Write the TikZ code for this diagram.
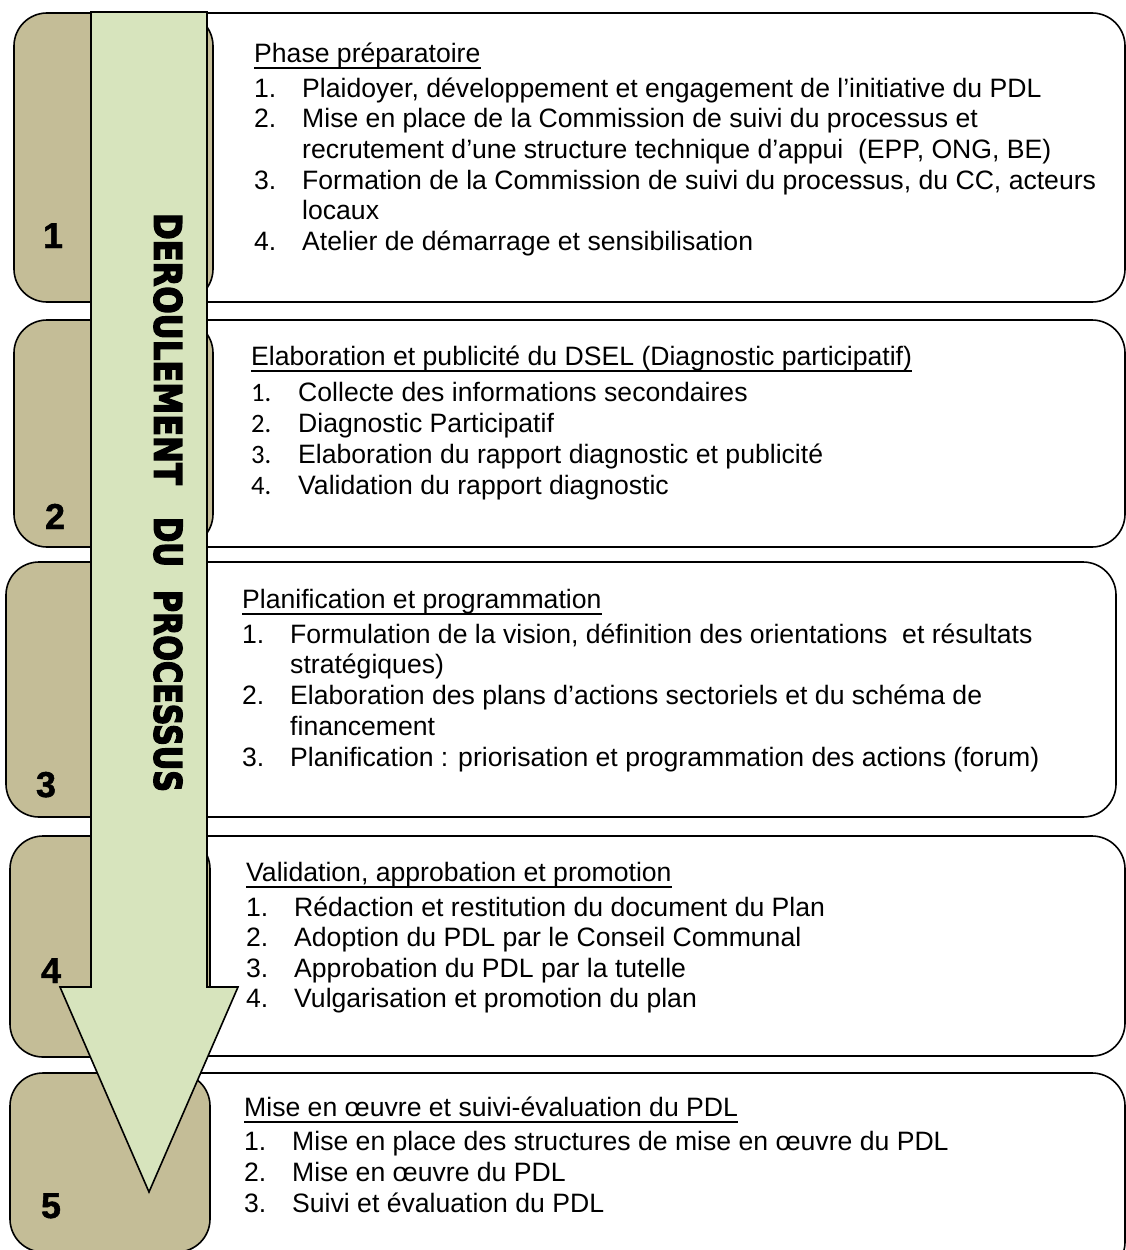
\documentclass[tikz,border=0pt]{standalone}
\usepackage{fontspec}
\usepackage{graphicx}
\setmainfont{Liberation Sans}
\newfontfamily\calib{Carlito}
\newfontfamily\heavy[BoldFeatures={FakeBold=4}]{DejaVu Sans}
\newfontfamily\numfont[BoldFeatures={FakeBold=1.2}]{Liberation Sans}
\definecolor{tanfill}{HTML}{C4BD97}
\definecolor{lgreen}{HTML}{D7E4BD}
\begin{document}
\begin{tikzpicture}[x=1pt,y=-1pt,
  wbox/.style={draw=black, line width=1.6pt, fill=white, rounded corners=33pt},
  tbox/.style={draw=black, line width=1.6pt, fill=tanfill, rounded corners=33pt},
  txt/.style={anchor=base west, inner sep=0pt, font=\fontsize{26.6}{30}\selectfont},
  ctxt/.style={anchor=base west, inner sep=0pt, font=\fontsize{26.6}{30}\selectfont\calib},
  num/.style={anchor=base, inner sep=0pt, font=\fontsize{36}{40}\selectfont\numfont\bfseries},
  vtxt/.style={rotate=-90, inner sep=0pt},
  uline/.style={line width=1.6pt}
]
\useasboundingbox (0,0) rectangle (1126,1250);
% white boxes
\draw[wbox] (150,13) rectangle (1125,302);
\draw[wbox] (150,320) rectangle (1125,547);
\draw[wbox] (150,562) rectangle (1116,817);
\draw[wbox] (150,836) rectangle (1125,1056);
\draw[wbox] (150,1073) rectangle (1125,1275);
% tan boxes
\draw[tbox] (14,13) rectangle (213,302);
\draw[tbox] (14,320) rectangle (213,547);
\draw[tbox] (6,562) rectangle (205,817);
\draw[tbox] (10,836) rectangle (210,1057);
\draw[tbox] (10,1073) rectangle (210,1252);
% arrow
\draw[line width=1.6pt, line join=miter, fill=lgreen]
  (91,12) -- (207,12) -- (207,987) -- (238,987) -- (149,1192) -- (60,987) -- (91,987) -- cycle;
\node[vtxt] (vt1) at (168,349) {\resizebox{272pt}{28pt}{\heavy\bfseries DEROULEMENT}};
\node[vtxt] (vt2) at (168,542) {\resizebox{50pt}{28pt}{\heavy\bfseries DU}};
\node[vtxt] (vt3) at (168,691) {\resizebox{202pt}{28pt}{\heavy\bfseries PROCESSUS}};
% numbers
\node[num] (n1) at (53,248) {1};
\node[num] (n2) at (55,529) {2};
\node[num] (n3) at (46,797) {3};
\node[num] (n4) at (51,983) {4};
\node[num] (n5) at (51,1218) {5};
% row 1
\node[txt] (h1) at (254,62) {Phase préparatoire};
\node[txt] (a1n) at (254,97) {1.};
\node[txt] (a1t) at (302,97) {Plaidoyer, développement et engagement de l’initiative du PDL};
\node[txt] (a2n) at (254,127) {2.};
\node[txt] (a2t) at (302,127) {Mise en place de la Commission de suivi du processus et};
\node[txt] (a2u) at (302,158) {recrutement d’une structure technique d’appui \ (EPP, ONG, BE)};
\node[txt] (a3n) at (254,189) {3.};
\node[txt] (a3t) at (302,189) {Formation de la Commission de suivi du processus, du CC, acteurs};
\node[txt] (a3u) at (302,219) {locaux};
\node[txt] (a4n) at (254,250) {4.};
\node[txt] (a4t) at (302,250) {Atelier de démarrage et sensibilisation};
% row 2
\node[txt] (h2) at (251,365) {Elaboration et publicité du DSEL (Diagnostic participatif)};
\node[ctxt] (b1n) at (251,401) {1.};
\node[txt] (b1t) at (298,401) {Collecte des informations secondaires};
\node[ctxt] (b2n) at (251,432) {2.};
\node[txt] (b2t) at (298,432) {Diagnostic Participatif};
\node[ctxt] (b3n) at (251,463) {3.};
\node[txt] (b3t) at (298,463) {Elaboration du rapport diagnostic et publicité};
\node[ctxt] (b4n) at (251,494) {4.};
\node[txt] (b4t) at (298,494) {Validation du rapport diagnostic};
% row 3
\node[txt] (h3) at (242,608) {Planification et programmation};
\node[txt] (c1n) at (242,643) {1.};
\node[txt] (c1t) at (290,643) {Formulation de la vision, définition des orientations \ et résultats};
\node[txt] (c1u) at (290,673) {stratégiques)};
\node[txt] (c2n) at (242,704) {2.};
\node[txt] (c2t) at (290,704) {Elaboration des plans d’actions sectoriels et du schéma de};
\node[txt] (c2u) at (290,735) {financement};
\node[txt] (c3n) at (242,766) {3.};
\node[txt] (c3t) at (290,766) {Planification : priorisation et programmation des actions (forum)};
% row 4
\node[txt] (h4) at (246,881) {Validation, approbation et promotion};
\node[txt] (d1n) at (246,916) {1.};
\node[txt] (d1t) at (294,916) {Rédaction et restitution du document du Plan};
\node[txt] (d2n) at (246,946) {2.};
\node[txt] (d2t) at (294,946) {Adoption du PDL par le Conseil Communal};
\node[txt] (d3n) at (246,977) {3.};
\node[txt] (d3t) at (294,977) {Approbation du PDL par la tutelle};
\node[txt] (d4n) at (246,1007) {4.};
\node[txt] (d4t) at (294,1007) {Vulgarisation et promotion du plan};
% row 5
\node[txt] (h5) at (244,1116) {Mise en œuvre et suivi-évaluation du PDL};
\node[txt] (e1n) at (244,1150) {1.};
\node[txt] (e1t) at (292,1150) {Mise en place des structures de mise en œuvre du PDL};
\node[txt] (e2n) at (244,1181) {2.};
\node[txt] (e2t) at (292,1181) {Mise en œuvre du PDL};
\node[txt] (e3n) at (244,1212) {3.};
\node[txt] (e3t) at (292,1212) {Suivi et évaluation du PDL};
% underlines
\foreach \h in {h1,h2,h3,h4,h5}
  \draw[uline] ([yshift=-6pt]\h.base west) -- ([yshift=-6pt]\h.base east);
\end{tikzpicture}
\end{document}
